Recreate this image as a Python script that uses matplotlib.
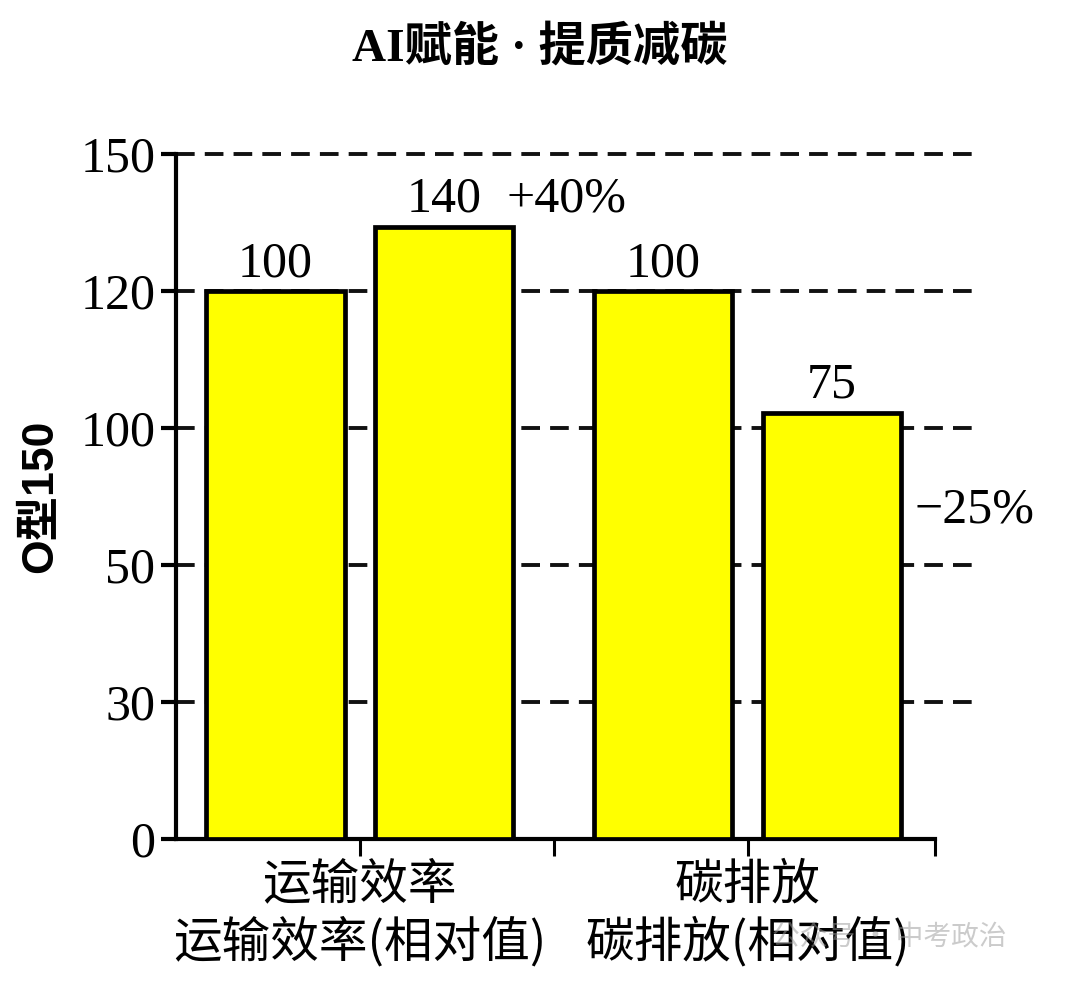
import matplotlib
matplotlib.use("Agg")
import matplotlib.pyplot as plt

# donnees lues sur l'image
# hauteurs en graduations (axe non lineaire : 0,30,50,100,120,150)
y_ticks = [0, 1, 2, 3, 4, 5]
y_labels = ["0", "30", "50", "100", "120", "150"]
bar_x = [0, 1, 2.3, 3.3]
bar_h = [4.0, 4.47, 4.0, 3.11]
bar_txt = ["100", "140", "100", "75"]
changes = ["+40%", "\u221225%"]
x_ticks = [0.5, 1.65, 2.8, 3.91]
x_labels = ["运输效率\n运输效率(相对值)", "", "碳排放\n碳排放(相对值)", ""]
titre = "AI赋能 · 提质减碳"
ylab = "O型150"

serif = ["Liberation Serif", "Noto Sans CJK SC"]
cjk = ["Noto Sans CJK SC", "DejaVu Sans"]

fig = plt.figure(figsize=(10.8, 9.81), dpi=100)
ax = fig.add_axes([0.163, 0.1448, 0.740, 0.698])

ax.bar(bar_x, bar_h, width=0.82, color="#ffff00", edgecolor="black",
       linewidth=3.4, zorder=3)

for x, h, t in zip(bar_x, bar_h, bar_txt):
    ax.text(x, h + 0.03, t, ha="center", va="bottom", fontsize=36,
            family=serif, zorder=4)

ax.text(1.37, 4.47 + 0.03, changes[0], ha="left", va="bottom", fontsize=36,
        family=serif)
ax.text(3.79, 2.40, changes[1], ha="left", va="center", fontsize=36,
        family=serif)

ax.set_xlim(-0.59, 4.15)
ax.set_ylim(0, 5)

for y in y_ticks[1:]:
    ax.axhline(y, color="#111111", linestyle=(0, (4.8, 2.6)), linewidth=2.8,
               zorder=1, clip_on=False)

ax.set_yticks(y_ticks)
ax.set_yticklabels(y_labels, family=serif, fontsize=36)
ax.set_xticks(x_ticks)
ax.set_xticklabels(x_labels, family=cjk, fontsize=35, linespacing=1.2)

ax.tick_params(axis="y", length=11, width=3, pad=4)
ax.tick_params(axis="x", length=12, width=2.2, pad=3)

for s in ["top", "right"]:
    ax.spines[s].set_visible(False)
ax.spines["left"].set_linewidth(3)
ax.spines["bottom"].set_linewidth(3)
ax.spines["left"].set_bounds(0, 5)
ax.spines["bottom"].set_bounds(-0.59, 3.91)

ax.set_ylabel(ylab, family=["Liberation Sans", "Noto Sans CJK SC"],
              fontsize=32, fontweight="bold", labelpad=14)

fig.text(0.5, 0.951, titre, ha="center", va="center", fontsize=34,
         family=serif, fontweight="bold")

# filigrane
fig.text(0.715, 0.044, "公众号 · 中考政治", ha="left", va="center",
         fontsize=20, family=cjk, color="#999999", alpha=0.5, zorder=0)

fig.savefig("out.png", dpi=100)
